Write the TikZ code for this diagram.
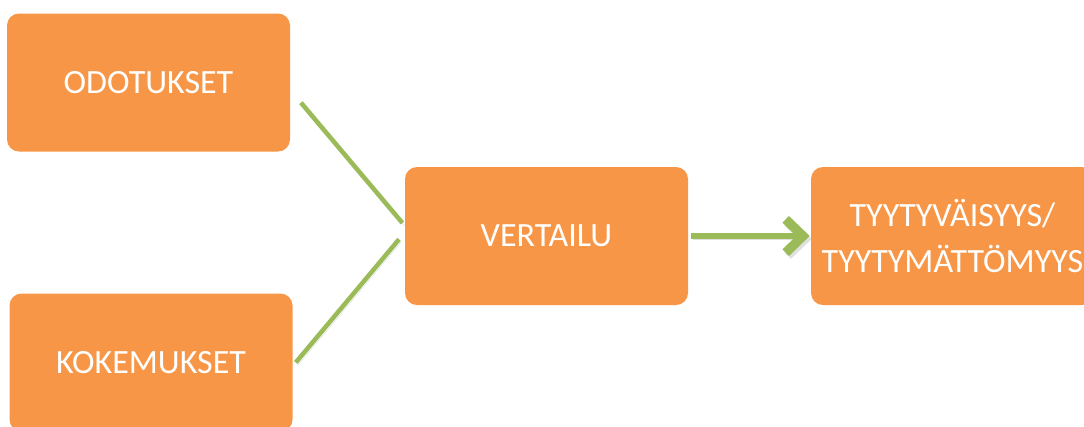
\documentclass[tikz,border=0pt]{standalone}
\usepackage{fontspec}
\setmainfont{Carlito}
\usetikzlibrary{arrows.meta,calc}
\definecolor{boxorange}{HTML}{F79646}
\definecolor{linkgreen}{HTML}{9BBB59}
\tikzset{
  stage/.style={fill=boxorange, rounded corners=9pt, minimum width=212.25pt, minimum height=103.5pt, inner sep=0pt, text=white, font=\fontsize{25.5}{35}\selectfont, align=center},
  linkshadow/.style={preaction={draw=black!40, opacity=0.3, transform canvas={shift={(1.5pt,-2.2pt)}}}},
  link/.style={draw=linkgreen, line width=3.4pt, linkshadow},
  flow/.style={draw=linkgreen, line width=5.2pt, linkshadow, -{Straight Barb[length=13pt, width=25pt, line width=7pt]}},
}

\begin{document}
\begin{tikzpicture}[x=0.75pt, y=-0.75pt]
\useasboundingbox (0,0) rectangle (1084,426);
\node[stage] (odotukset) at (148.5,82.5) {ODOTUKSET};
\node[stage] (kokemukset) at (151,362.5) {KOKEMUKSET};
\node[stage] (vertailu) at (546.5,236) {VERTAILU};
\node[stage] (tyyty) at (952.5,236) {TYYTYVÄISYYS/\\TYYTYMÄTTÖMYYS};
\draw[link] ($(odotukset.east)+(10.7,20.2)$) -- ($(vertailu.west)+(-2.3,-13)$);
\draw[link] ($(kokemukset.east)+(3,0)$) -- ($(vertailu.west)+(-5.7,3.3)$);
\draw[flow] ($(vertailu.east)+(3,0)$) -- ($(tyyty.west)+(-1,0)$);
\end{tikzpicture}
\end{document}
